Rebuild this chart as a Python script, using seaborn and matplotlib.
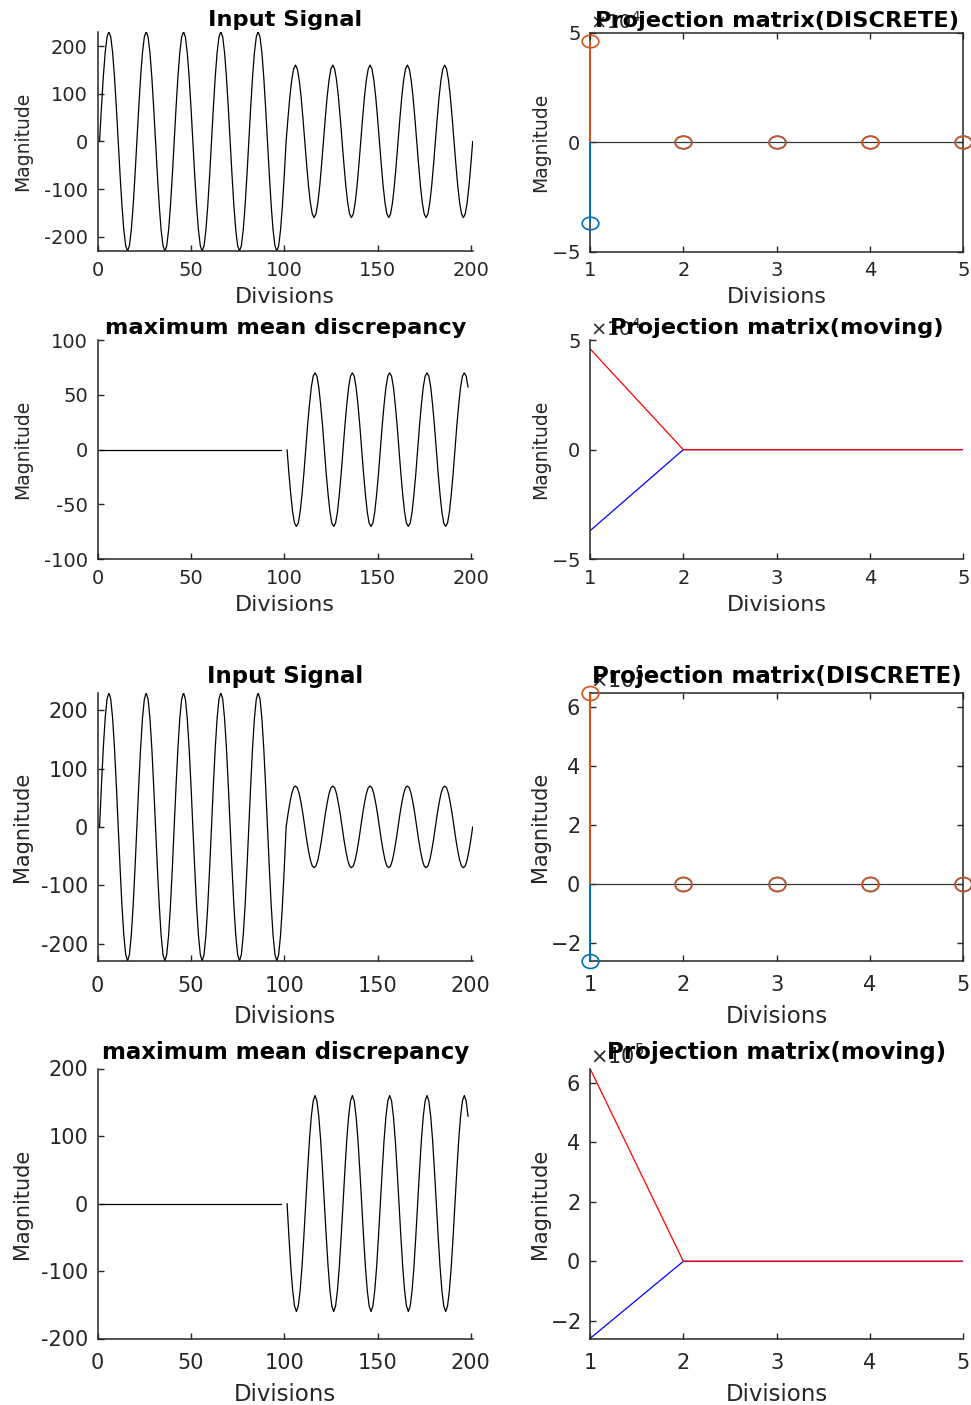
import numpy as np
import pandas as pd
import matplotlib
matplotlib.use("Agg")
import matplotlib.pyplot as plt
import seaborn as sns
from matplotlib.path import Path
from matplotlib.transforms import Affine2D
from matplotlib.ticker import ScalarFormatter

sns.set_style("ticks")
plt.rcParams["font.family"] = ["DejaVu Sans"]
plt.rcParams["mathtext.fontset"] = "dejavusans"
plt.rcParams["axes.unicode_minus"] = False

# ---------------- data ----------------
# one period (20 samples) of each oscillation, by amplitude
cycle_230 = [0, 71, 135, 186, 219, 230, 219, 186, 135, 71,
             0, -71, -135, -186, -219, -230, -219, -186, -135, -71]
cycle_160 = [0, 49, 94, 129, 152, 160, 152, 129, 94, 49,
             0, -49, -94, -129, -152, -160, -152, -129, -94, -49]
cycle_70 = [0, 22, 41, 57, 67, 70, 67, 57, 41, 22,
            0, -22, -41, -57, -67, -70, -67, -57, -41, -22]

# input signals: 5 periods of the first regime, 5 of the second, closing sample
signal_a = np.concatenate([np.tile(cycle_230, 5), np.tile(cycle_160, 5), [0]])
signal_b = np.concatenate([np.tile(cycle_230, 5), np.tile(cycle_70, 5), [0]])
signal_x = np.arange(1, 202)

# maximum mean discrepancy: flat first half, inverted oscillation afterwards
mmd_flat_x = np.arange(1, 99) + 0.5
mmd_flat = np.zeros(98)
mmd_osc_x = np.arange(101, 199) + 0.5
mmd_a = -np.tile(cycle_70, 5)[:98]
mmd_b = -np.tile(cycle_160, 5)[:98]

# projection matrices (two columns each) over divisions 1..5
divisions = [1, 2, 3, 4, 5]
proj_a_neg = [-3.7e4, 0, 0, 0, 0]
proj_a_pos = [4.6e4, 0, 0, 0, 0]
proj_b_neg = [-2.59e5, 0, 0, 0, 0]
proj_b_pos = [6.47e5, 0, 0, 0, 0]

MAT_BLUE = "#0072BD"
MAT_ORANGE = "#D95319"
AX_GRAY = "#262626"

W, H = 971, 1405
fig = plt.figure(figsize=(W / 100, H / 100), dpi=100)


def add_axes(left, top, right, bottom):
    return fig.add_axes([left / W, 1 - bottom / H, (right - left) / W, (bottom - top) / H])


def style_axes(ax, boxed, sizes, title, ylab_x):
    tick_size, xpad, xlab_size, xlabpad, ylab_size, title_size, title_pad = sizes
    ax.tick_params(direction="in", length=4.5, width=1.0, colors=AX_GRAY,
                   labelsize=tick_size, top=boxed, right=boxed)
    ax.tick_params(axis="y", pad=7)
    ax.tick_params(axis="x", pad=xpad)
    for side in ["top", "right"]:
        ax.spines[side].set_visible(boxed)
    for sp in ax.spines.values():
        sp.set_color(AX_GRAY)
        sp.set_linewidth(1.1)
    ax.set_xlabel("Divisions", fontsize=xlab_size, color=AX_GRAY, labelpad=xlabpad)
    ax.set_ylabel("Magnitude", fontsize=ylab_size, color=AX_GRAY)
    ax.yaxis.set_label_coords(ylab_x, 0.5)
    ax.set_title(title, fontsize=title_size, fontweight="bold", color="black",
                 y=1.0, pad=title_pad)


def sci_axis(ax, tick_size):
    fmt = ScalarFormatter(useMathText=True)
    fmt.set_powerlimits((0, 0))
    ax.yaxis.set_major_formatter(fmt)
    ax.yaxis.offsetText.set_fontsize(tick_size)
    ax.yaxis.offsetText.set_color(AX_GRAY)


def ellipse_marker(aspect):
    return Path.unit_circle().transformed(Affine2D().scale(aspect, 1.0))


def signal_panel(ax, y):
    sns.lineplot(x=signal_x, y=y, ax=ax, color="black", linewidth=0.9,
                 estimator=None, sort=False)
    ax.set_xlim(0, 201)
    ax.set_ylim(-230, 230)
    ax.set_xticks([0, 50, 100, 150, 200])
    ax.set_yticks([-200, -100, 0, 100, 200])


def mmd_panel(ax, osc, lim, ticks):
    df = pd.DataFrame({
        "x": np.concatenate([mmd_flat_x, mmd_osc_x]),
        "y": np.concatenate([mmd_flat, osc]),
        "seg": ["flat"] * len(mmd_flat_x) + ["osc"] * len(mmd_osc_x),
    })
    sns.lineplot(data=df, x="x", y="y", units="seg", estimator=None, ax=ax,
                 color="black", linewidth=0.9, sort=False)
    ax.set_xlim(0, 201)
    ax.set_ylim(-lim, lim)
    ax.set_xticks([0, 50, 100, 150, 200])
    ax.set_yticks(ticks)


def stem_panel(ax, neg, pos, ylim, yticks, aspect, tick_size):
    for vals, col in [(neg, MAT_BLUE), (pos, MAT_ORANGE)]:
        ml, sl, bl = ax.stem(divisions, vals, linefmt="-", basefmt="-")
        sl.set_color(col)
        sl.set_linewidth(1.4)
        sl.set_zorder(3.5)
        sl.set_clip_on(False)
        ml.set_marker(ellipse_marker(aspect))
        ml.set_markersize(12)
        ml.set_markerfacecolor("none")
        ml.set_markeredgecolor(col)
        ml.set_markeredgewidth(1.2)
        ml.set_zorder(3.6)
        ml.set_clip_on(False)
        bl.set_color("#333333")
        bl.set_linewidth(0.8)
    ax.set_xlim(1, 5)
    ax.set_ylim(*ylim)
    ax.set_xticks(divisions)
    ax.set_yticks(yticks)
    sci_axis(ax, tick_size)


def moving_panel(ax, neg, pos, ylim, yticks, tick_size):
    sns.lineplot(x=divisions, y=neg, ax=ax, color="blue", linewidth=0.9, estimator=None)
    sns.lineplot(x=divisions, y=pos, ax=ax, color="red", linewidth=0.9, estimator=None)
    ax.set_xlim(1, 5)
    ax.set_ylim(*ylim)
    ax.set_xticks(divisions)
    ax.set_yticks(yticks)
    sci_axis(ax, tick_size)


LEFT_YLAB = (32 - 97.7) / 375.0
RIGHT_YLAB = (550 - 590) / 373.3

# tick size, x tick pad, xlabel size, xlabel pad, ylabel size, title size, title pad
UPPER = (14, 7, 16, 5, 13.5, 16.2, 4)
LOWER = (15, 10.5, 16.5, 7, 15, 16.5, 7)

# ---------------- upper block ----------------
ax = add_axes(97.7, 31.7, 472.7, 251)
signal_panel(ax, signal_a)
style_axes(ax, False, UPPER, "Input Signal", LEFT_YLAB)

ax = add_axes(590, 32.5, 963.3, 251.5)
stem_panel(ax, proj_a_neg, proj_a_pos, (-5e4, 5e4), [-5e4, 0, 5e4], 1.33, UPPER[0])
style_axes(ax, True, UPPER, "Projection matrix(DISCRETE)", RIGHT_YLAB)

ax = add_axes(97.7, 340, 472.7, 559.3)
mmd_panel(ax, mmd_a, 100, [-100, -50, 0, 50, 100])
style_axes(ax, False, UPPER, "maximum mean discrepancy", LEFT_YLAB)

ax = add_axes(590, 340, 963.3, 559.3)
moving_panel(ax, proj_a_neg, proj_a_pos, (-5e4, 5e4), [-5e4, 0, 5e4], UPPER[0])
style_axes(ax, False, UPPER, "Projection matrix(moving)", RIGHT_YLAB)

# ---------------- lower block ----------------
ax = add_axes(97.7, 692.7, 472.7, 961)
signal_panel(ax, signal_b)
style_axes(ax, False, LOWER, "Input Signal", LEFT_YLAB)

ax = add_axes(590, 692.7, 963.3, 960.5)
stem_panel(ax, proj_b_neg, proj_b_pos, (-2.59e5, 6.47e5),
           [-2e5, 0, 2e5, 4e5, 6e5], 1.19, LOWER[0])
style_axes(ax, True, LOWER, "Projection matrix(DISCRETE)", RIGHT_YLAB)

ax = add_axes(97.7, 1068.5, 472.7, 1338.5)
mmd_panel(ax, mmd_b, 200, [-200, -100, 0, 100, 200])
style_axes(ax, False, LOWER, "maximum mean discrepancy", LEFT_YLAB)

ax = add_axes(590, 1068.5, 963.3, 1338.5)
moving_panel(ax, proj_b_neg, proj_b_pos, (-2.59e5, 6.47e5),
             [-2e5, 0, 2e5, 4e5, 6e5], LOWER[0])
style_axes(ax, False, LOWER, "Projection matrix(moving)", RIGHT_YLAB)

fig.savefig("out.png", dpi=100, facecolor="white")
